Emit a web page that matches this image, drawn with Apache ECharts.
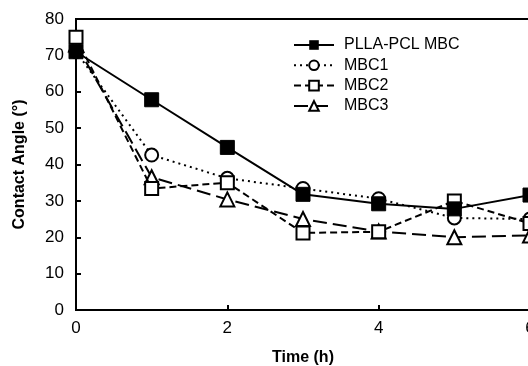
<!DOCTYPE html>
<html>
<head>
<meta charset="utf-8">
<script src="https://cdn.jsdelivr.net/npm/echarts@6/dist/echarts.min.js"></script>
<style>
  html, body { margin: 0; padding: 0; background: #fff; }
  #chart { width: 528px; height: 366px; }
</style>
</head>
<body>
<div id="chart"></div>
<script>
// time points (h)
const times = [0, 1, 2, 3, 4, 5, 6];
const seriesNames = ['PLLA-PCL MBC', 'MBC1', 'MBC2', 'MBC3'];
const pllaPcl = [71, 57.8, 44.7, 31.8, 29.2, 27.8, 31.6];
const mbc1 = [71, 42.6, 36.2, 33.4, 30.6, 25.3, 25];
const mbc2 = [75, 33.4, 35, 21.2, 21.5, 30, 23.8];
const mbc3 = [73, 36.5, 30.4, 25, 21.6, 20, 20.5];

const chart = echarts.init(document.getElementById('chart'));

function pairs(vals) {
    return times.map((t, i) => [t, vals[i]]);
}

const openStyle = { color: '#fff', borderColor: '#000', borderWidth: 2 };

const option = {
    animation: false,
    backgroundColor: '#fff',
    textStyle: { fontFamily: 'Liberation Sans, Arial, sans-serif' },
    grid: {
        left: 76, top: 19, width: 454, height: 291,
        outerBoundsMode: 'none', containLabel: false,
        show: true, borderColor: '#000', borderWidth: 2, backgroundColor: 'transparent'
    },
    legend: {
        orient: 'vertical',
        left: 288, top: 32,
        itemWidth: 40, itemHeight: 12, itemGap: 4.3,
        textStyle: { fontSize: 16, color: '#000', padding: [0, 0, 0, 5] },
        data: seriesNames
    },
    xAxis: {
        type: 'value', min: 0, max: 6, interval: 2,
        name: 'Time (h)', nameLocation: 'middle', nameGap: 40,
        nameTextStyle: { fontSize: 16, fontWeight: 'bold', color: '#000' },
        axisLine: { lineStyle: { color: '#000', width: 2 } },
        axisTick: { inside: true, length: 5, lineStyle: { color: '#000', width: 2 } },
        axisLabel: { fontSize: 17, color: '#000', margin: 10, showMaxLabel: true },
        splitLine: { show: false }
    },
    yAxis: {
        type: 'value', min: 0, max: 80, interval: 10,
        name: 'Contact Angle (°)', nameLocation: 'middle', nameGap: 48,
        nameTextStyle: { fontSize: 16, fontWeight: 'bold', color: '#000' },
        axisLine: { show: true, lineStyle: { color: '#000', width: 2 } },
        axisTick: { show: true, inside: true, length: 5, lineStyle: { color: '#000', width: 2 } },
        axisLabel: { fontSize: 17, color: '#000', margin: 12 },
        splitLine: { show: false }
    },
    series: [
        {
            name: seriesNames[0], type: 'line', data: pairs(pllaPcl),
            symbol: 'rect', symbolSize: 14, z: 5,
            lineStyle: { color: '#000', width: 2, type: 'solid' },
            itemStyle: { color: '#000', borderColor: '#000' }
        },
        {
            name: seriesNames[1], type: 'line', data: pairs(mbc1),
            symbol: 'circle', symbolSize: 13, z: 3,
            lineStyle: { color: '#000', width: 2, type: [2, 4] },
            itemStyle: openStyle
        },
        {
            name: seriesNames[2], type: 'line', data: pairs(mbc2),
            symbol: 'rect', symbolSize: 13, z: 4,
            lineStyle: { color: '#000', width: 2, type: [7, 4] },
            itemStyle: openStyle
        },
        {
            name: seriesNames[3], type: 'line', data: pairs(mbc3),
            symbol: 'triangle', symbolSize: 14, z: 2,
            lineStyle: { color: '#000', width: 2, type: [14, 6] },
            itemStyle: openStyle
        }
    ]
};

chart.setOption(option);
</script>
</body>
</html>
